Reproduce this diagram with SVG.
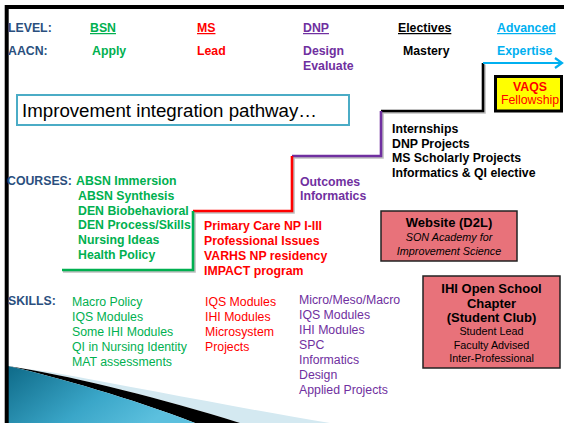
<svg xmlns="http://www.w3.org/2000/svg" width="564" height="423" viewBox="0 0 564 423">
<defs>
<style>
text{font-family:"Liberation Sans",Arial,sans-serif;font-size:12.3px}
.b{font-weight:bold}
.lbl{fill:#2a4f7e;font-weight:bold}
.g{fill:#00b050}.r{fill:#ff0000}.p{fill:#7030a0}.k{fill:#000}.c{fill:#00b0f0}
.u{text-decoration:underline}
.step{fill:none;stroke-width:2.6;stroke-linejoin:miter}
.sh{fill:none;stroke:#000;stroke-opacity:0.25;stroke-width:2.6}
.pink{fill:#e8727a;stroke:#222;stroke-width:1.5}
.mid{text-anchor:middle}
</style>
<linearGradient id="teal" x1="0" y1="0" x2="1" y2="0.4">
<stop offset="0" stop-color="#0e6a88"/>
<stop offset="0.6" stop-color="#3aa6c8"/>
<stop offset="1" stop-color="#5cc0de"/>
</linearGradient>
<marker id="arr" markerWidth="12" markerHeight="12" refX="9" refY="6" orient="auto" markerUnits="userSpaceOnUse">
<path d="M2,1 L9,6 L2,11" fill="none" stroke="#00b0f0" stroke-width="2.2"/>
</marker>
</defs>
<rect width="564" height="423" fill="#fff"/>

<g id="swoosh">
<path d="M50,372 C150,390 250,410 330,423 L240,423 C160,398 80,378 20,368 Z" fill="#d4e9f1"/>
<path d="M20,368 C80,378 160,398 240,423 L195,423 C130,398 60,378 8,366 Z" fill="#000"/>
<path d="M8,366 C60,378 130,398 195,423 L8,423 Z" fill="url(#teal)"/>
</g>

<g id="frame" stroke="#000" stroke-width="4">
<line x1="5" y1="7" x2="564" y2="7"/>
<line x1="6.7" y1="5" x2="6.7" y2="423"/>
</g>

<g id="header">
<text x="8" y="32" class="lbl">LEVEL:</text>
<text x="90" y="32" class="b g u">BSN</text>
<text x="197" y="32" class="b r u">MS</text>
<text x="303" y="32" class="b p u">DNP</text>
<text x="398" y="32" class="b k u">Electives</text>
<text x="497" y="32" class="b c u">Advanced</text>
<text x="8" y="55" class="lbl">AACN:</text>
<text x="92" y="55" class="b g">Apply</text>
<text x="197" y="55" class="b r">Lead</text>
<text x="303" y="55" class="b p">Design</text>
<text x="303" y="70" class="b p">Evaluate</text>
<text x="403" y="55" class="b k">Mastery</text>
<text x="497" y="55" class="b c">Expertise</text>
</g>

<g id="connectors">
<path class="sh" d="M484.5,64.5 L484.5,112.5 L382.5,112.5 L382.5,157.5 L293.5,157.5 L293.5,212.5 L194.5,212.5 L194.5,271.5 L63,271.5"/>
<path class="step" stroke="#000" stroke-width="3" d="M483,63 L483,111 L381,111"/>
<path class="step" stroke="#7030a0" d="M381,111 L381,156 L292,156"/>
<path class="step" stroke="#ff0000" d="M292,156 L292,211 L193,211"/>
<path class="step" stroke="#00b050" d="M193,211 L193,270 L62,270"/>
<line x1="483" y1="63" x2="562" y2="63" stroke="#00b0f0" stroke-width="2.2" marker-end="url(#arr)"/>
</g>

<g id="title">
<rect x="17" y="95" width="332" height="30" fill="#fff" stroke="#4bacc6" stroke-width="2"/>
<text x="22" y="117" style="font-size:18.7px" class="k">Improvement integration pathway…</text>
</g>

<g id="vaqs">
<rect x="495.5" y="76.5" width="66" height="34.5" fill="#ffff00" stroke="#000" stroke-width="3"/>
<text x="530" y="91" class="b r mid">VAQS</text>
<text x="530" y="104" class="r mid">Fellowship</text>
</g>

<g id="electives">
<text x="392" y="133" class="b k">Internships</text>
<text x="392" y="148" class="b k">DNP Projects</text>
<text x="392" y="162" class="b k">MS Scholarly Projects</text>
<text x="392" y="177" class="b k">Informatics &amp; QI elective</text>
</g>

<g id="dnp-courses">
<text x="300" y="186" class="b p">Outcomes</text>
<text x="300" y="200" class="b p">Informatics</text>
</g>

<g id="bsn-courses">
<text x="7" y="185" class="lbl">COURSES:</text>
<text x="76" y="185" class="b g">ABSN Immersion</text>
<text x="78" y="200" class="b g">ABSN Synthesis</text>
<text x="78" y="215" class="b g">DEN Biobehavioral</text>
<text x="78" y="229" class="b g">DEN Process/Skills</text>
<text x="78" y="244" class="b g">Nursing Ideas</text>
<text x="78" y="259" class="b g">Health Policy</text>
</g>

<g id="ms-courses">
<text x="204" y="230" class="b r">Primary Care NP I-III</text>
<text x="204" y="245" class="b r">Professional Issues</text>
<text x="204" y="260" class="b r">VARHS NP residency</text>
<text x="204" y="275" class="b r">IMPACT program</text>
</g>

<g id="website">
<rect x="381" y="211" width="136" height="50" class="pink"/>
<text x="449" y="227" class="b k mid" style="font-size:13px">Website (D2L)</text>
<text x="449" y="241" class="k mid" style="font-size:10.8px;font-style:italic">SON Academy for</text>
<text x="449" y="255" class="k mid" style="font-size:10.8px;font-style:italic">Improvement Science</text>
</g>

<g id="ihi">
<rect x="423" y="276" width="137" height="92" class="pink"/>
<text x="491.5" y="293" class="b k mid" style="font-size:13px">IHI Open School</text>
<text x="491.5" y="307.5" class="b k mid" style="font-size:13px">Chapter</text>
<text x="491.5" y="322" class="b k mid" style="font-size:13px">(Student Club)</text>
<text x="491.5" y="335" class="k mid" style="font-size:10.8px">Student Lead</text>
<text x="491.5" y="349" class="k mid" style="font-size:10.8px">Faculty Advised</text>
<text x="491.5" y="362" class="k mid" style="font-size:10.8px">Inter-Professional</text>
</g>

<g id="skills">
<text x="8" y="305" class="lbl">SKILLS:</text>
<text x="72" y="306" class="g">Macro Policy</text>
<text x="72" y="321" class="g">IQS Modules</text>
<text x="72" y="336" class="g">Some IHI Modules</text>
<text x="72" y="351" class="g">QI in Nursing Identity</text>
<text x="72" y="366" class="g">MAT assessments</text>
<text x="205" y="306" class="r">IQS Modules</text>
<text x="205" y="321" class="r">IHI Modules</text>
<text x="205" y="336" class="r">Microsystem</text>
<text x="205" y="351" class="r">Projects</text>
<text x="299" y="304" class="p">Micro/Meso/Macro</text>
<text x="299" y="319" class="p">IQS Modules</text>
<text x="299" y="334" class="p">IHI Modules</text>
<text x="299" y="349" class="p">SPC</text>
<text x="299" y="364" class="p">Informatics</text>
<text x="299" y="379" class="p">Design</text>
<text x="299" y="394" class="p">Applied Projects</text>
</g>
</svg>
